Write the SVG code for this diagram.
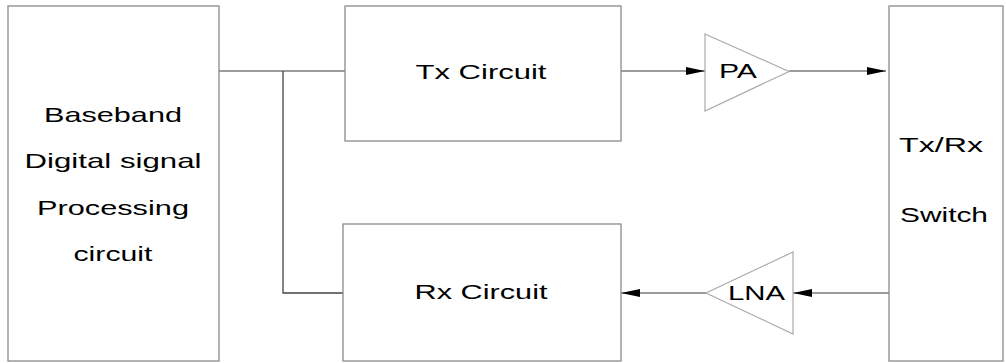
<svg xmlns="http://www.w3.org/2000/svg" width="1006" height="363" viewBox="0 0 1006 363">
<defs>
<style>
.box{fill:#fff;stroke:#8a8a8a;stroke-width:1.3}
.amp{fill:#fff;stroke:#ababab;stroke-width:1.2}
.wire{fill:none;stroke:#7a7a7a;stroke-width:1.3}
.wire-dark{fill:none;stroke:#444;stroke-width:1.3}
.lbl{font-family:"Liberation Sans",Arial,sans-serif;font-size:21px;fill:#000;text-anchor:middle}
</style>
<marker id="ah" viewBox="0 0 19 8" refX="19" refY="4" markerWidth="19" markerHeight="8" markerUnits="userSpaceOnUse" orient="auto">
<path d="M0,0 L19,4 L0,8 Z" fill="#000"/>
</marker>
</defs>
<rect width="1006" height="363" fill="#fff"/>
<g id="connectors">
<path class="wire" d="M219,71 H345"/>
<path class="wire-dark" d="M283,71 V293 H343"/>
<path class="wire" d="M621,71 H705" marker-end="url(#ah)"/>
<path class="wire" d="M789,71 H886" marker-end="url(#ah)"/>
<path class="wire" d="M889,293 H793" marker-end="url(#ah)"/>
<path class="wire" d="M706,293 H621" marker-end="url(#ah)"/>
</g>
<g id="baseband">
<rect class="box" x="8" y="6" width="211" height="355"/>
<text class="lbl" x="113" y="122" textLength="138" lengthAdjust="spacingAndGlyphs">Baseband</text>
<text class="lbl" x="113" y="168" textLength="177" lengthAdjust="spacingAndGlyphs">Digital signal</text>
<text class="lbl" x="113" y="215" textLength="152" lengthAdjust="spacingAndGlyphs">Processing</text>
<text class="lbl" x="113" y="261" textLength="79" lengthAdjust="spacingAndGlyphs">circuit</text>
</g>
<g id="tx-circuit">
<rect class="box" x="345" y="6" width="276" height="135"/>
<text class="lbl" x="481" y="79" textLength="131" lengthAdjust="spacingAndGlyphs">Tx Circuit</text>
</g>
<g id="rx-circuit">
<rect class="box" x="343" y="224" width="278" height="137"/>
<text class="lbl" x="481" y="299" textLength="133" lengthAdjust="spacingAndGlyphs">Rx Circuit</text>
</g>
<g id="pa">
<polygon class="amp" points="705,34 789,71.5 705,111"/>
<text class="lbl" x="738" y="78" textLength="38" lengthAdjust="spacingAndGlyphs">PA</text>
</g>
<g id="lna">
<polygon class="amp" points="793,252 706,293 793,334"/>
<text class="lbl" x="756.5" y="300" textLength="57" lengthAdjust="spacingAndGlyphs">LNA</text>
</g>
<g id="switch">
<rect class="box" x="889" y="6" width="114" height="355"/>
<text class="lbl" x="941" y="152" textLength="84" lengthAdjust="spacingAndGlyphs">Tx/Rx</text>
<text class="lbl" x="944" y="222" textLength="88" lengthAdjust="spacingAndGlyphs">Switch</text>
</g>
</svg>
